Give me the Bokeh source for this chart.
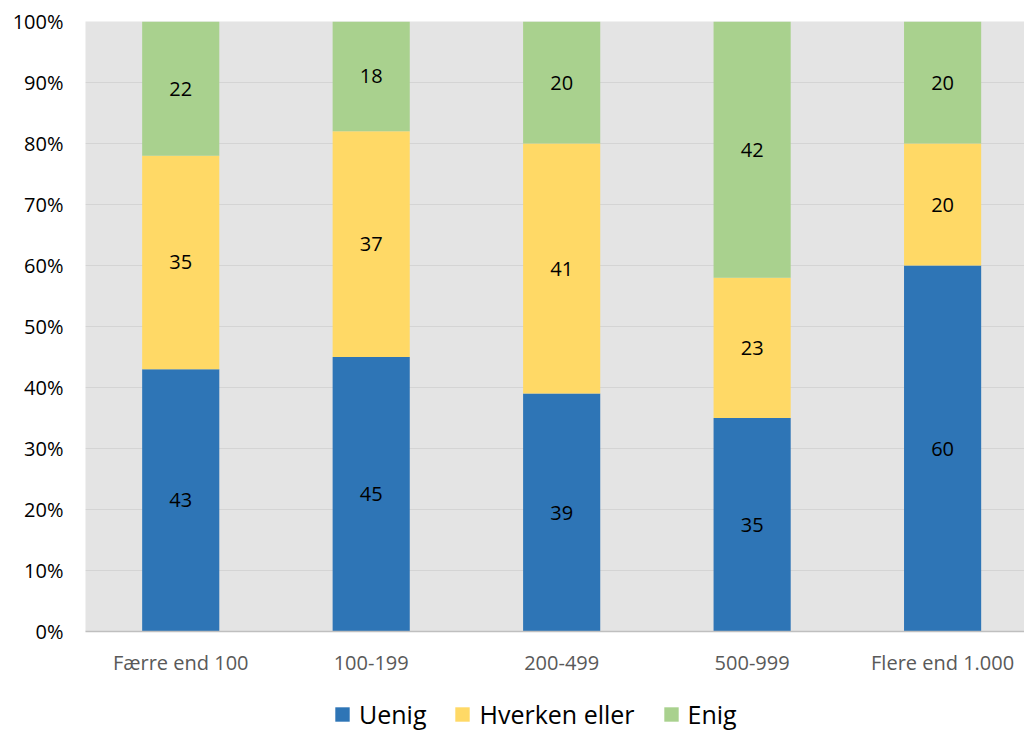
from bokeh.plotting import figure
from bokeh.layouts import column
from bokeh.models import ColumnDataSource, Legend, LegendItem, FixedTicker, Range1d, NumeralTickFormatter
from bokeh.core.properties import value
from bokeh.embed import file_html
from bokeh.resources import INLINE

categories = ["Færre end 100", "100-199", "200-499", "500-999", "Flere end 1.000"]
uenig = [43, 45, 39, 35, 60]
hverken = [35, 37, 41, 23, 20]
enig = [22, 18, 20, 42, 20]
series = ["Uenig", "Hverken eller", "Enig"]
colors = ["#2E75B6", "#FFD966", "#A9D18E"]
y_ticks = [0, 10, 20, 30, 40, 50, 60, 70, 80, 90, 100]

FONT = "Open Sans"
xs = [i + 0.5 for i in range(len(categories))]

src = ColumnDataSource(dict(x=xs, Uenig=uenig, Hverken=hverken, Enig=enig))

p = figure(width=1024, height=678, output_backend="svg", toolbar_location=None,
           x_range=Range1d(0, 4.93), y_range=Range1d(0, 100),
           min_border_left=85, min_border_right=0, min_border_top=21, min_border_bottom=45)
p.background_fill_color = "#E4E4E4"
p.border_fill_color = "white"
p.outline_line_color = None

p.vbar_stack(["Uenig", "Hverken", "Enig"], x="x", width=0.405, source=src,
             color=colors, line_color=None)

# data labels
lx, ly, lt = [], [], []
for i in range(len(categories)):
    base = 0
    for vals in (uenig, hverken, enig):
        v = vals[i]
        lx.append(xs[i]); ly.append(base + v / 2); lt.append(str(v))
        base += v
p.text(x=lx, y=ly, text=lt, text_align="center", text_baseline="middle",
       text_font=value(FONT), text_font_size="20px", text_color="black")

p.xgrid.visible = False
p.ygrid.ticker = FixedTicker(ticks=y_ticks)
p.ygrid.grid_line_color = "#D4D4D4"
p.ygrid.grid_line_width = 1

p.yaxis.ticker = FixedTicker(ticks=y_ticks)
p.yaxis.formatter = NumeralTickFormatter(format="0")
p.yaxis.major_label_overrides = {t: f"{t}%" for t in y_ticks}
p.yaxis.axis_line_color = None
p.yaxis.major_tick_line_color = None
p.yaxis.minor_tick_line_color = None
p.yaxis.major_label_text_font = FONT
p.yaxis.major_label_text_font_size = "20px"
p.yaxis.major_label_text_color = "black"
p.yaxis.major_label_standoff = 16

p.xaxis.ticker = FixedTicker(ticks=xs)
p.xaxis.major_label_overrides = {x: c for x, c in zip(xs, categories)}
p.xaxis.axis_line_color = "#BFBFBF"
p.xaxis.axis_line_width = 1.5
p.xaxis.major_tick_line_color = None
p.xaxis.minor_tick_line_color = None
p.xaxis.major_label_text_font = FONT
p.xaxis.major_label_text_font_size = "20px"
p.xaxis.major_label_text_color = "#595959"
p.xaxis.major_label_standoff = 11

# legend strip (placeholder glyphs lie outside the visible range; only the legend shows)
lg = figure(width=1024, height=53, output_backend="svg", toolbar_location=None,
            x_axis_type=None, y_axis_type=None, x_range=Range1d(0, 1), y_range=Range1d(0, 1),
            min_border=0)
lg.outline_line_color = None
lg.grid.visible = False
rs = [lg.quad(left=[-3], right=[-2], top=[-2], bottom=[-3], fill_color=c, line_color=None)
      for c in colors]
legend = Legend(items=[LegendItem(label=s, renderers=[r]) for s, r in zip(series, rs)],
                orientation="horizontal", location=(248, 0),
                label_text_font=FONT, label_text_font_size="25px", label_text_color="black",
                glyph_width=18, glyph_height=18, spacing=27, label_standoff=8,
                border_line_color=None, background_fill_alpha=0,
                margin=0, padding=0)
lg.add_layout(legend, "center")

layout = column(p, lg, spacing=0)
open("out.html", "w").write(file_html(layout, INLINE))
